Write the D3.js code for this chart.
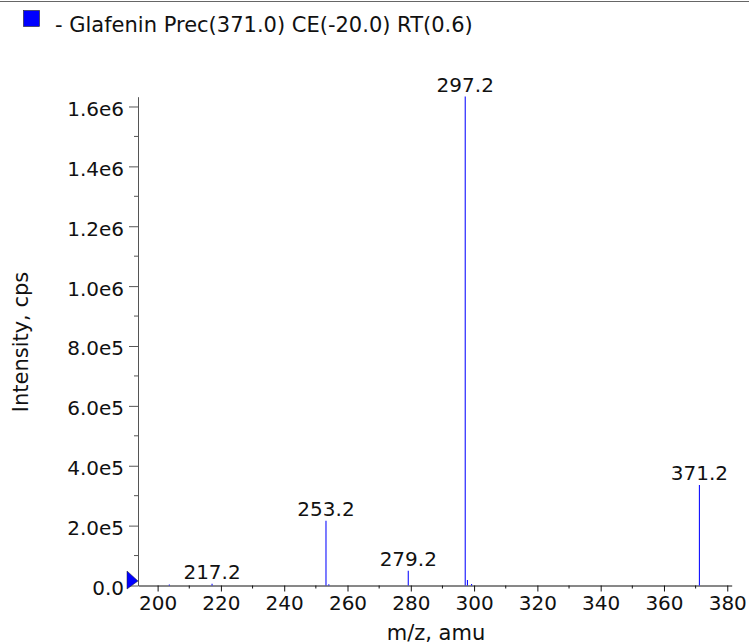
<!DOCTYPE html>
<html lang="en">

<head>
  <meta charset="UTF-8">
  <title>Glafenin MS/MS</title>
  <script src="https://d3js.org/d3.v7.min.js"></script>
  <style>
    body {
      margin: 0;
      background: #fff;
    }

    text {
      font-family: "DejaVu Sans", "Liberation Sans", Arial, sans-serif;
      fill: #111;
    }

    .peak {
      stroke: #1010ff;
      stroke-width: 1.1;
    }
  </style>
</head>

<body>
  <svg width="749" height="643"></svg>
  <script>
    // peaks
    const mz = [203.7, 217.2, 253.2, 254.1, 279.2, 297.2, 297.9, 299.2, 371.2];
    const intensity = [3000, 6000, 216000, 4000, 49000, 1633000, 18000, 5000, 336000];
    const labelled = ['217.2', '253.2', '279.2', '297.2', '371.2'];

    const xTicks = [200, 220, 240, 260, 280, 300, 320, 340, 360, 380];
    const yTicks = [0, 2e5, 4e5, 6e5, 8e5, 1e6, 1.2e6, 1.4e6, 1.6e6];
    const legendText = '- Glafenin Prec(371.0) CE(-20.0) RT(0.6)';

    const font = '"DejaVu Sans", "Liberation Sans", Arial, sans-serif';
    const svg = d3.select('svg');

    const x = d3.scaleLinear().domain([193.8, 381.4]).range([138, 731.7]);
    const y = d3.scaleLinear().domain([0, 1.6327e6]).range([585.5, 96.7]);

    const fmt = v => {
      if (v === 0) return '0.0';
      const e = Math.floor(Math.log10(v));
      return (v / Math.pow(10, e)).toFixed(1) + 'e' + e;
    };

    // frame line at the top
    svg.append('line')
      .attr('x1', 0).attr('x2', 749)
      .attr('y1', 1.5).attr('y2', 1.5)
      .attr('stroke', '#666');

    // legend
    svg.append('rect')
      .attr('x', 23.5).attr('y', 10.5)
      .attr('width', 16).attr('height', 16)
      .attr('fill', '#0000ff')
      .attr('stroke', '#222')
      .attr('stroke-width', 0.6);
    svg.append('text')
      .attr('x', 55).attr('y', 31.5)
      .attr('font-size', 21)
      .text(legendText);

    // x axis
    const xAxis = svg.append('g')
      .attr('transform', `translate(0,${y(0)})`)
      .call(d3.axisBottom(x).tickValues(xTicks).tickSize(6).tickSizeOuter(0).tickPadding(4));
    xAxis.select('.domain').attr('stroke', '#111');
    xAxis.selectAll('.tick line').attr('stroke', '#111');
    xAxis.selectAll('.tick text').attr('font-size', 20).attr('fill', '#111')
      .attr('font-family', font);
    xAxis.append('g').selectAll('line')
      .data(d3.range(210, 380, 20))
      .join('line')
      .attr('x1', d => x(d)).attr('x2', d => x(d))
      .attr('y1', 0).attr('y2', 3)
      .attr('stroke', '#111');

    // y axis
    const yAxis = svg.append('g')
      .attr('transform', `translate(${x.range()[0]},0)`)
      .call(d3.axisLeft(y).tickValues(yTicks).tickFormat(fmt).tickSize(9).tickSizeOuter(0).tickPadding(5));
    yAxis.select('.domain').attr('stroke', '#555');
    yAxis.selectAll('.tick line').attr('stroke', '#555');
    yAxis.selectAll('.tick text').attr('font-size', 20).attr('fill', '#111')
      .attr('dy', '0.45em')
      .attr('font-family', font);
    yAxis.append('g').selectAll('line')
      .data(d3.range(1e5, 1.6e6, 2e5))
      .join('line')
      .attr('x1', -4).attr('x2', 0)
      .attr('y1', d => y(d)).attr('y2', d => y(d))
      .attr('stroke', '#555');

    // axis titles
    svg.append('text')
      .attr('transform', `translate(27.5,342) rotate(-90)`)
      .attr('text-anchor', 'middle')
      .attr('font-size', 21)
      .text('Intensity, cps');
    svg.append('text')
      .attr('x', 436).attr('y', 639.5)
      .attr('text-anchor', 'middle')
      .attr('font-size', 21)
      .text('m/z, amu');

    // spectrum sticks
    const peaks = mz.map((m, i) => ({ mz: m, v: intensity[i] }));
    svg.append('g').selectAll('line')
      .data(peaks)
      .join('line')
      .attr('class', 'peak')
      .attr('x1', d => x(d.mz)).attr('x2', d => x(d.mz))
      .attr('y1', y(0)).attr('y2', d => y(d.v));

    svg.append('g').selectAll('text')
      .data(peaks.filter(d => labelled.includes(d.mz.toFixed(1))))
      .join('text')
      .attr('x', d => x(d.mz))
      .attr('y', d => y(d.v) - 5)
      .attr('text-anchor', 'middle')
      .attr('font-size', 20)
      .text(d => d.mz.toFixed(1));

    // baseline marker
    svg.append('path')
      .attr('d', d3.line()([[127, 571], [127, 589], [138, 581]]) + 'Z')
      .attr('fill', '#0000ff')
      .attr('stroke', '#222')
      .attr('stroke-width', 0.5);
  </script>
</body>

</html>
